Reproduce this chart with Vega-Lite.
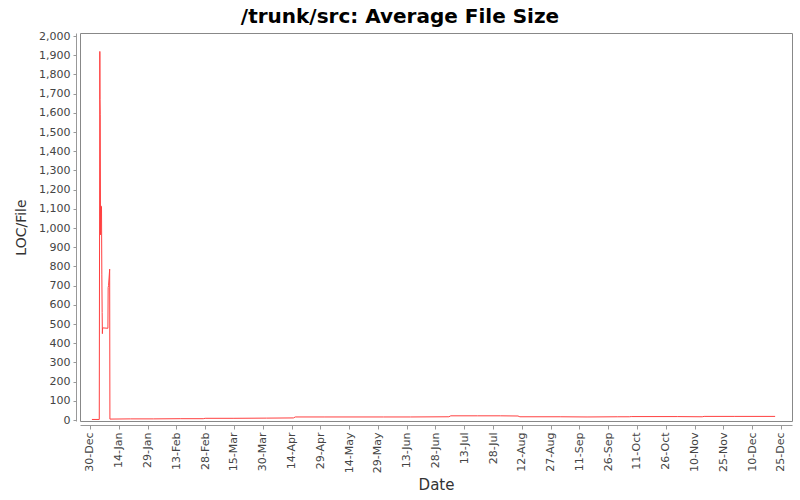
{
  "$schema": "https://vega.github.io/schema/vega-lite/v6.json",
  "width": 712,
  "height": 388,
  "autosize": "none",
  "padding": {"left": 80, "top": 33, "right": 8, "bottom": 79},
  "background": "white",
  "config": {
    "view": {"stroke": "#888888", "strokeWidth": 1},
    "font": "DejaVu Sans"
  },
  "title": {
    "text": "/trunk/src: Average File Size",
    "font": "DejaVu Sans",
    "fontSize": 20,
    "fontWeight": "bold",
    "color": "#000000",
    "offset": 3,
    "dx": -36
  },
  "data": {
    "values": [
      {"date": "2002-12-31T00:00:00Z", "value": 3},
      {"date": "2003-01-03T20:00:00Z", "value": 3},
      {"date": "2003-01-04T03:00:00Z", "value": 1920},
      {"date": "2003-01-04T05:00:00Z", "value": 1670},
      {"date": "2003-01-04T08:00:00Z", "value": 1590},
      {"date": "2003-01-04T12:00:00Z", "value": 965},
      {"date": "2003-01-04T16:00:00Z", "value": 1116},
      {"date": "2003-01-05T00:00:00Z", "value": 1110},
      {"date": "2003-01-05T04:00:00Z", "value": 760},
      {"date": "2003-01-05T08:00:00Z", "value": 560},
      {"date": "2003-01-05T11:00:00Z", "value": 450},
      {"date": "2003-01-05T14:00:00Z", "value": 480},
      {"date": "2003-01-08T08:00:00Z", "value": 478},
      {"date": "2003-01-08T11:00:00Z", "value": 690},
      {"date": "2003-01-08T16:00:00Z", "value": 700},
      {"date": "2003-01-09T06:00:00Z", "value": 786},
      {"date": "2003-01-09T09:00:00Z", "value": 5},
      {"date": "2003-01-20T00:00:00Z", "value": 6},
      {"date": "2003-02-01T00:00:00Z", "value": 6},
      {"date": "2003-02-15T00:00:00Z", "value": 7},
      {"date": "2003-02-27T00:00:00Z", "value": 7},
      {"date": "2003-02-28T00:00:00Z", "value": 9},
      {"date": "2003-03-15T00:00:00Z", "value": 9},
      {"date": "2003-04-01T00:00:00Z", "value": 10},
      {"date": "2003-04-15T00:00:00Z", "value": 11},
      {"date": "2003-04-16T00:00:00Z", "value": 16},
      {"date": "2003-05-01T00:00:00Z", "value": 16},
      {"date": "2003-05-15T00:00:00Z", "value": 16},
      {"date": "2003-06-01T00:00:00Z", "value": 16},
      {"date": "2003-06-15T00:00:00Z", "value": 16},
      {"date": "2003-07-05T00:00:00Z", "value": 17},
      {"date": "2003-07-06T00:00:00Z", "value": 22},
      {"date": "2003-07-20T00:00:00Z", "value": 22},
      {"date": "2003-08-01T00:00:00Z", "value": 22},
      {"date": "2003-08-10T00:00:00Z", "value": 21},
      {"date": "2003-08-11T00:00:00Z", "value": 17},
      {"date": "2003-09-01T00:00:00Z", "value": 17},
      {"date": "2003-09-15T00:00:00Z", "value": 16},
      {"date": "2003-10-01T00:00:00Z", "value": 17},
      {"date": "2003-10-07T00:00:00Z", "value": 17},
      {"date": "2003-10-08T00:00:00Z", "value": 18},
      {"date": "2003-11-01T00:00:00Z", "value": 18},
      {"date": "2003-11-14T00:00:00Z", "value": 17},
      {"date": "2003-11-15T00:00:00Z", "value": 19},
      {"date": "2003-12-01T00:00:00Z", "value": 19},
      {"date": "2003-12-22T00:00:00Z", "value": 19}
    ]
  },
  "mark": {"type": "line", "color": "#ff4040", "strokeWidth": 1, "interpolate": "linear"},
  "encoding": {
    "x": {
      "field": "date",
      "type": "temporal",
      "title": "Date",
      "scale": {
        "type": "utc",
        "domain": [
          {"year": 2002, "month": 12, "date": 24, "hours": 19, "utc": true},
          {"year": 2003, "month": 12, "date": 30, "hours": 19, "utc": true}
        ],
        "nice": false
      },
      "axis": {
        "values": [
          {"year": 2002, "month": 12, "date": 30, "utc": true},
          {"year": 2003, "month": 1, "date": 14, "utc": true},
          {"year": 2003, "month": 1, "date": 29, "utc": true},
          {"year": 2003, "month": 2, "date": 13, "utc": true},
          {"year": 2003, "month": 2, "date": 28, "utc": true},
          {"year": 2003, "month": 3, "date": 15, "utc": true},
          {"year": 2003, "month": 3, "date": 30, "utc": true},
          {"year": 2003, "month": 4, "date": 14, "utc": true},
          {"year": 2003, "month": 4, "date": 29, "utc": true},
          {"year": 2003, "month": 5, "date": 14, "utc": true},
          {"year": 2003, "month": 5, "date": 29, "utc": true},
          {"year": 2003, "month": 6, "date": 13, "utc": true},
          {"year": 2003, "month": 6, "date": 28, "utc": true},
          {"year": 2003, "month": 7, "date": 13, "utc": true},
          {"year": 2003, "month": 7, "date": 28, "utc": true},
          {"year": 2003, "month": 8, "date": 12, "utc": true},
          {"year": 2003, "month": 8, "date": 27, "utc": true},
          {"year": 2003, "month": 9, "date": 11, "utc": true},
          {"year": 2003, "month": 9, "date": 26, "utc": true},
          {"year": 2003, "month": 10, "date": 11, "utc": true},
          {"year": 2003, "month": 10, "date": 26, "utc": true},
          {"year": 2003, "month": 11, "date": 10, "utc": true},
          {"year": 2003, "month": 11, "date": 25, "utc": true},
          {"year": 2003, "month": 12, "date": 10, "utc": true},
          {"year": 2003, "month": 12, "date": 25, "utc": true}
        ],
        "format": "%d-%b",
        "labelAngle": -90,
        "labelAlign": "right",
        "labelBaseline": "middle",
        "labelFontSize": 11,
        "labelColor": "#444444",
        "labelFont": "DejaVu Sans",
        "labelPadding": 3,
        "labelOverlap": false,
        "labelFlush": false,
        "offset": 4,
        "grid": false,
        "domainColor": "#999999",
        "tickColor": "#999999",
        "tickSize": 4,
        "titleFontSize": 15,
        "titleFontWeight": "normal",
        "titleColor": "#333333",
        "titleFont": "DejaVu Sans",
        "titlePadding": 5
      }
    },
    "y": {
      "field": "value",
      "type": "quantitative",
      "title": "LOC/File",
      "scale": {"domain": [-5, 2016], "nice": false, "zero": false},
      "axis": {
        "values": [0, 100, 200, 300, 400, 500, 600, 700, 800, 900, 1000, 1100, 1200, 1300, 1400, 1500, 1600, 1700, 1800, 1900, 2000],
        "format": ",d",
        "labelFontSize": 11,
        "labelColor": "#444444",
        "labelFont": "DejaVu Sans",
        "labelPadding": 3,
        "offset": 4,
        "grid": false,
        "domainColor": "#999999",
        "tickColor": "#999999",
        "tickSize": 3,
        "titleFontSize": 14,
        "titleFontWeight": "normal",
        "titleColor": "#333333",
        "titleFont": "DejaVu Sans",
        "titlePadding": 10
      }
    }
  }
}
